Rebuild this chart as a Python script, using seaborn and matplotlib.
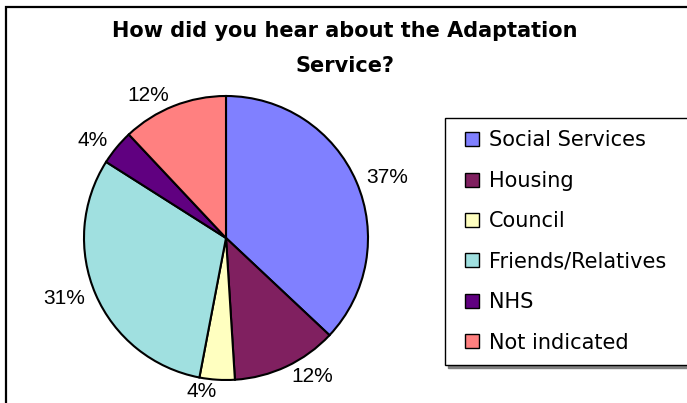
import matplotlib
matplotlib.use("Agg")
import matplotlib.pyplot as plt
from matplotlib.lines import Line2D
from matplotlib.patches import Rectangle
import seaborn as sns

sns.set_theme(style="white")
plt.rcParams['font.family'] = ['Liberation Sans', 'DejaVu Sans']
plt.rcParams['text.color'] = 'black'

# ---- data ----
categories = ["Social Services", "Housing", "Council", "Friends/Relatives", "NHS", "Not indicated"]
values = [37, 12, 4, 31, 4, 12]
colors = ["#8080FF", "#802060", "#FFFFC0", "#A0E0E0", "#600080", "#FF8080"]
title_lines = ["How did you hear about the Adaptation", "Service?"]

W, H = 687, 403
fig = plt.figure(figsize=(W / 100, H / 100), dpi=100)
fig.patch.set_facecolor("white")

# chart-area border (top and left visible)
fig.add_artist(Rectangle((6 / W, -0.1), 1.2, (1 - 7 / H) + 0.1, transform=fig.transFigure,
                         fill=False, edgecolor="black", linewidth=1.6))

# pie
cx, cy, r = 226, 238, 142
ax = fig.add_axes([(cx - r) / W, (H - cy - r) / H, 2 * r / W, 2 * r / H])
wedges, texts = ax.pie(values, labels=[f"{v}%" for v in values], colors=colors,
                       startangle=90, counterclock=False, labeldistance=1.08,
                       wedgeprops=dict(edgecolor="black", linewidth=1.5),
                       textprops=dict(fontsize=15, family="Liberation Sans", color="black"))
ax.set_xlim(-1, 1)
ax.set_ylim(-1, 1)
ax.set_aspect("equal")
ax.axis("off")

# title
for i, line in enumerate(title_lines):
    fig.text(345 / W, 1 - (37 + 35 * i) / H, line, ha="center", va="baseline",
             fontsize=15, fontweight="bold", family="DejaVu Sans", color="black")

# legend
handles = [Line2D([], [], marker="s", linestyle="none", markersize=9.4,
                  markerfacecolor=w.get_facecolor(), markeredgecolor="black",
                  markeredgewidth=1) for w in wedges]
leg = fig.legend(handles, categories, loc="upper left",
                 bbox_to_anchor=(445 / W, 0, 270 / W, 1 - 118 / H), mode="expand",
                 borderaxespad=0, fancybox=False, frameon=True, framealpha=1,
                 shadow={"facecolor": "0.5", "edgecolor": "0.5", "alpha": 1},
                 prop=dict(family="DejaVu Sans", size=15), labelcolor="black",
                 handlelength=1.4, handletextpad=0.1, labelspacing=0.98, borderpad=0.6)
leg.get_frame().set_edgecolor("black")
leg.get_frame().set_linewidth(1.0)

fig.savefig("out.png", dpi=100, facecolor="white")
